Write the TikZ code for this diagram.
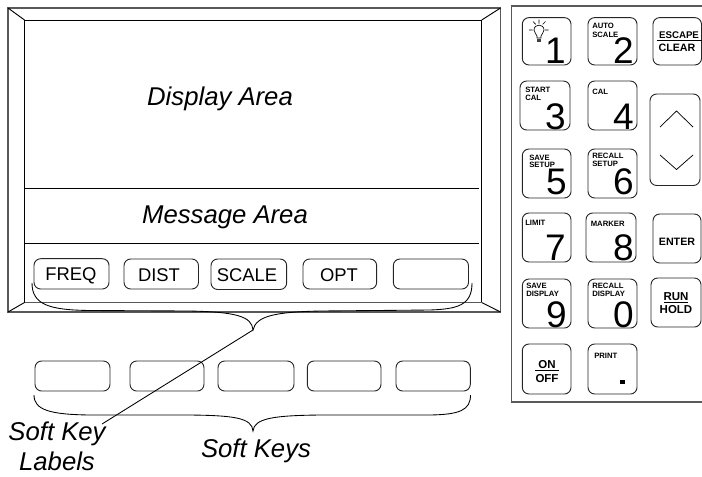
\documentclass[tikz,border=0pt]{standalone}
\usepackage{fontspec}
\setmainfont{Liberation Sans}
\newcommand{\px}[1]{\fontsize{\fpeval{#1*.75}pt}{\fpeval{#1*.9}pt}\selectfont}
% \KeyBox{name}{x1}{y1}{x2}{y2}
\newcommand{\KeyBox}[6][]{%
  \pgfmathsetmacro{\kcx}{(#3+#5)/2}\pgfmathsetmacro{\kcy}{(#4+#6)/2}%
  \pgfmathsetmacro{\kw}{(#5-#3)*.75}\pgfmathsetmacro{\kh}{(#6-#4)*.75}%
  \node[keybox,#1,minimum width=\kw pt,minimum height=\kh pt] (#2) at (\kcx,\kcy) {};}
\tikzset{
  keybox/.style={draw=black!85,rounded corners=5pt,line width=.7pt,inner sep=0pt,outer sep=0pt},
  softtxt/.style={font=\px{18.4},anchor=base,inner sep=0pt},
  area/.style={font=\px{25.7}\itshape,anchor=base,inner sep=0pt},
  digit/.style={font=\px{37},anchor=base east,inner sep=0pt},
  tiny/.style={font=\px{7.7}\bfseries,anchor=base west,inner sep=0pt},
  bold/.style={font=\px{10.7}\bfseries,anchor=base,inner sep=0pt},
  rule/.style={line width=.7pt,black},
  frame/.style={line width=.9pt,black!65},
  curly/.style={line width=.65pt,black}
}
\begin{document}
\begin{tikzpicture}[x=.75pt,y=-.75pt]
\useasboundingbox (0,0) rectangle (702,476);
% ---- screen bezel
\coordinate (oTL) at (8,8); \coordinate (oTR) at (500.5,8);
\coordinate (oBL) at (8,312); \coordinate (oBR) at (500.5,312);
\coordinate (iTL) at (24.5,20); \coordinate (iTR) at (481.7,20);
\coordinate (iBL) at (24.5,302.5); \coordinate (iBR) at (481.7,302.5);
\draw[frame] (oTL) rectangle (oBR);
\draw[rule] (oTL) -- (iTL) (oTR) -- (iTR) (oBL) -- (iBL) (oBR) -- (iBR);
\draw[rule] (iBL) -- (iTL) -- (iTR) -- (iBR);
\draw[line width=1.1pt,black!65] (iBL) -- (iBR);
\coordinate (m1R) at (478.7,188); \coordinate (m1L) at (24.5,188);
\coordinate (m2R) at (478.7,243.5); \coordinate (m2L) at (24.5,243.5);
\draw[rule] (m1L) -- (m1R) (m2L) -- (m2R);
\node[area] (da) at (220,105) {Display Area};
\node[area] (ma) at (225,223) {Message Area};
% ---- soft key labels
\KeyBox{s1}{34}{258.7}{109}{289}
\KeyBox{s2}{124}{259}{198.5}{289}
\KeyBox{s3}{211}{259}{286.7}{289.5}
\KeyBox{s4}{303}{259}{376.7}{289}
\KeyBox{s5}{393.3}{259}{468.5}{289}
\node[softtxt] at (71,280) {FREQ};
\node[softtxt] at (159,281) {DIST};
\node[softtxt] at (247,281) {SCALE};
\node[softtxt] at (339,281) {OPT};
% ---- brace for the labels
\coordinate (b1L) at (32,283); \coordinate (b1T) at (253,330); \coordinate (b1R) at (472,283);
\draw[curly] (b1L) .. controls (32,305) and (50,310) .. (90,310.5)
  -- (190,311) .. controls (235,312) and (252,316) .. (b1T)
  .. controls (256,316) and (275,312) .. (320,311)
  -- (430,310) .. controls (458,309) and (472,305) .. (b1R);
% ---- soft keys
\KeyBox{k1}{35}{361}{110}{391}
\KeyBox{k2}{130}{361}{204}{391}
\KeyBox{k3}{218}{361}{294}{391}
\KeyBox{k4}{307.3}{361}{381}{391}
\KeyBox{k5}{396}{361}{470.3}{391}
\coordinate (b2L) at (34,395); \coordinate (b2T) at (253,431); \coordinate (b2R) at (470.5,395);
\draw[curly] (b2L) .. controls (34,410) and (50,414.5) .. (90,415)
  -- (190,415) .. controls (235,415.5) and (252,418) .. (b2T)
  .. controls (254,418) and (275,415.5) .. (320,415)
  -- (430,415) .. controls (460,414.5) and (470.5,410) .. (b2R);
\node[area] (lab1) at (57,440) {Soft Key};
\node[area] (lab2) at (57,470) {Labels};
\node[area] (softkeys) at (256,457.5) {Soft Keys};
\coordinate (lineEnd) at (102,424);
\draw[line width=.65pt] (b1T) -- (lineEnd);
% ---- keypad panel
\coordinate (pTR) at (702,6); \coordinate (pTL) at (511.5,6);
\coordinate (pBL) at (511.5,402); \coordinate (pBR) at (702,402);
\draw[frame] (pTR) -- (pTL) -- (pBL) -- (pBR);
\KeyBox{n1}{522.3}{17.6}{571}{65}
\KeyBox{n2}{588}{17.6}{637}{65}
\KeyBox{esc}{653}{17.6}{701.5}{65}
\KeyBox{n3}{520}{81}{570}{130}
\KeyBox{n4}{588}{81}{637}{130}
\KeyBox{updn}{650}{94}{700}{185.5}
\KeyBox{n5}{522.3}{149}{571}{198}
\KeyBox{n6}{588}{149}{637}{198}
\KeyBox{n7}{522.3}{213}{571}{262}
\KeyBox{n8}{586}{213}{636}{262}
\KeyBox{ent}{653}{214}{701}{263}
\KeyBox{n9}{522.3}{279}{571}{328}
\KeyBox{n0}{588}{279}{637}{328}
\KeyBox{run}{651}{278}{701}{327}
\KeyBox{on}{522.3}{344}{571}{394}
\KeyBox{prt}{588}{344}{637}{394}
% digits
\node[digit] at (566,63) {1};
\node[digit] at (634,63) {2};
\node[digit] at (566,129) {3};
\node[digit] at (634,129) {4};
\node[digit] at (567,194) {5};
\node[digit] at (634,194) {6};
\node[digit] at (566,260) {7};
\node[digit] at (634,260) {8};
\node[digit] at (567,327) {9};
\node[digit] at (634,327) {0};
\fill (620.3,380) rectangle (625,384.3);
% small captions
\node[tiny] at (592,28.5) {AUTO};
\node[tiny] at (592,37.5) {SCALE};
\node[tiny] at (525,92.5) {START};
\node[tiny] at (525,100.5) {CAL};
\node[tiny] at (592,94) {CAL};
\node[tiny] at (529,160) {SAVE};
\node[tiny] at (529,167.7) {SETUP};
\node[tiny] at (592,158) {RECALL};
\node[tiny] at (592,166.7) {SETUP};
\node[tiny] at (525,225) {LIMIT};
\node[tiny] at (590.5,226) {MARKER};
\node[tiny] at (526,288.5) {SAVE};
\node[tiny] at (526,296.7) {DISPLAY};
\node[tiny] at (592,288.5) {RECALL};
\node[tiny] at (592,296.7) {DISPLAY};
\node[tiny] at (594,358) {PRINT};
% bold key legends
\node[bold,font=\px{9.7}\bfseries] at (679,38.5) {ESCAPE};
\draw[line width=.7pt] (656.5,40.5) -- (701.5,40.5);
\node[bold] at (677,51.7) {CLEAR};
\node[bold] at (677,245) {ENTER};
\node[bold,font=\px{11.5}\bfseries] at (676,300) {RUN};
\draw[line width=.7pt] (664,302) -- (688,302);
\node[bold,font=\px{11.5}\bfseries] at (676,313) {HOLD};
\node[bold,font=\px{11.5}\bfseries] at (547,368) {ON};
\draw[line width=.7pt] (535,370) -- (559,370);
\node[bold,font=\px{11.5}\bfseries] at (547,382.6) {OFF};
% arrows
\draw[line width=.55pt] (660,127) -- (676.5,111) -- (693,127);
\draw[line width=.55pt] (660,155) -- (676.5,169.5) -- (693,155);
% bulb
\draw[line width=.5pt] (537,38) -- (537,36) .. controls (536.5,33.5) and (534,33) .. (534,30)
  .. controls (534,23.5) and (544,23.5) .. (544,30)
  .. controls (544,33) and (541.5,33.5) .. (541,36) -- (541,38) -- cycle;
\fill[black!75] (537,38.5) rectangle (541,42);
\draw[line width=.5pt] (529,30) -- (532.5,30) (545,30) -- (548.5,30)
  (533,21.5) -- (535.7,24.3) (545.5,21.5) -- (542.7,24.3) (539,19.5) -- (539,23.5);
\end{tikzpicture}
\end{document}
